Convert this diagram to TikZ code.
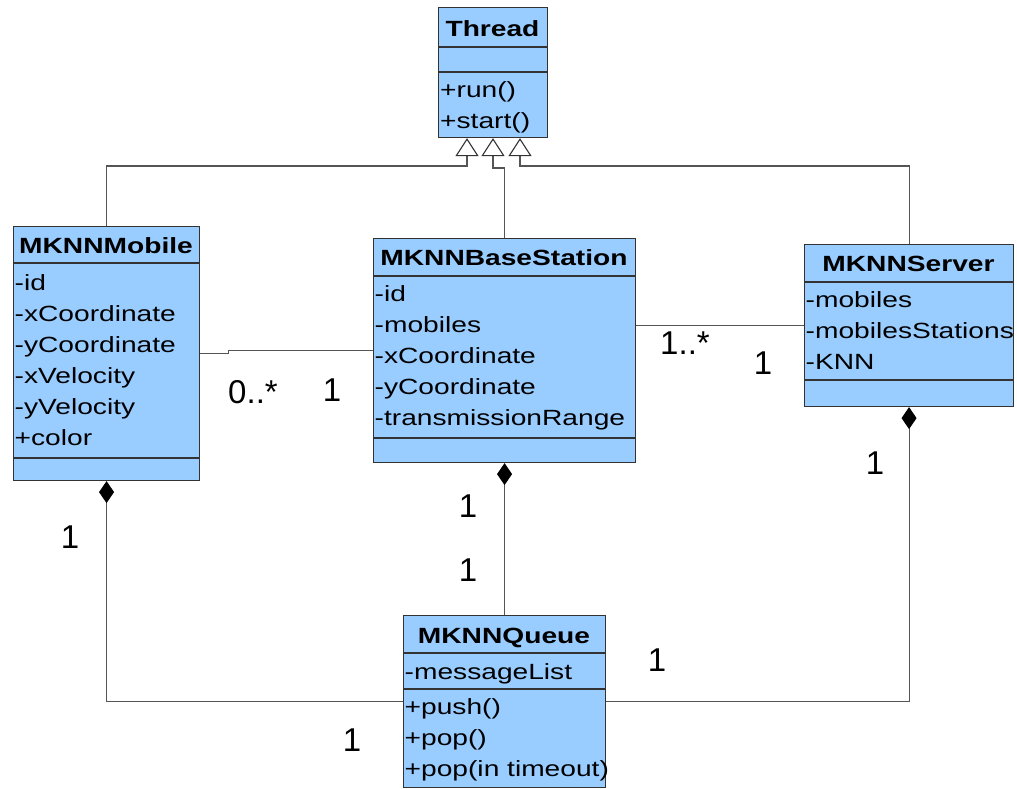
\documentclass[tikz,border=0pt]{standalone}
\usepackage{fontspec}
\setmainfont{Liberation Sans}[FakeStretch=1.28]
\newfontfamily\multfont{Liberation Sans}
\usepackage{tikz}
\usetikzlibrary{
    arrows.meta,
    calc,
    positioning
}
\definecolor{umlblue}{RGB}{153,204,255}
\definecolor{umlline}{RGB}{85,85,85}

\begin{document}
\begin{tikzpicture}[x=1pt, y=-1pt,
    classbox/.style={draw=black!80, fill=umlblue, line width=1.1pt, inner sep=0pt, anchor=north west},
    classsep/.style={draw=black!80, line width=1.1pt},
    title/.style={anchor=base, inner sep=0pt, font=\fontsize{22}{26}\selectfont\bfseries},
    member/.style={anchor=base west, inner sep=0pt, font=\fontsize{22}{26}\selectfont},
    mult/.style={inner sep=0pt, font=\multfont\fontsize{33}{38}\selectfont},
    link/.style={draw=umlline, line width=1.1pt},
    inherit/.style={link, -{Triangle[open, color=black!80, fill=white, width=23pt, length=18pt]}},
    compose/.style={link, {Diamond[color=black, fill=black, width=15pt, length=22pt]}-}]
    \useasboundingbox (0, 0) rectangle (1017, 788);

    \node[classbox, minimum width=109pt, minimum height=130pt] (thread) at (438, 7) {};
    \foreach \y in {47, 72} \draw[classsep] (thread.west |- 0,\y) -- (thread.east |- 0,\y);
    \node[title] (thread-title) at (492.5, 36) {Thread};
    \foreach \txt [count=\i] in {+run(), +start()}
        \node[member] (thread-\i) at (440, 66+31*\i) {\txt};

    \node[classbox, minimum width=186pt, minimum height=254pt] (mobile) at (13, 226) {};
    \foreach \y in {263, 458} \draw[classsep] (mobile.west |- 0,\y) -- (mobile.east |- 0,\y);
    \node[title] (mobile-title) at (106, 253) {MKNNMobile};
    \foreach \txt [count=\i] in {-id, -xCoordinate, -yCoordinate, -xVelocity, -yVelocity, +color}
        \node[member] (mobile-\i) at (14.5, 259+31*\i) {\txt};

    \node[classbox, minimum width=262pt, minimum height=224pt] (base) at (373, 238) {};
    \foreach \y in {276, 438} \draw[classsep] (base.west |- 0,\y) -- (base.east |- 0,\y);
    \node[title] (base-title) at (504, 265) {MKNNBaseStation};
    \foreach \txt [count=\i] in {-id, -mobiles, -xCoordinate, -yCoordinate, -transmissionRange}
        \node[member] (base-\i) at (374.5, 270+31*\i) {\txt};

    \node[classbox, minimum width=209pt, minimum height=162pt] (server) at (804, 244) {};
    \foreach \y in {282, 380} \draw[classsep] (server.west |- 0,\y) -- (server.east |- 0,\y);
    \node[title] (server-title) at (908.5, 271) {MKNNServer};
    \foreach \txt [count=\i] in {-mobiles, -mobilesStations, -KNN}
        \node[member] (server-\i) at (805.5, 276+31*\i) {\txt};

    \node[classbox, minimum width=202pt, minimum height=172pt] (queue) at (403, 615) {};
    \foreach \y in {653, 689} \draw[classsep] (queue.west |- 0,\y) -- (queue.east |- 0,\y);
    \node[title] (queue-title) at (504, 643) {MKNNQueue};
    \node[member] (queue-0) at (404.5, 679) {-messageList};
    \foreach \txt [count=\i] in {+push(), +pop(), +pop(in timeout)}
        \node[member] (queue-\i) at (404.5, 683+31*\i) {\txt};

    \draw[inherit] (mobile.north) -- ++(0, -60) -| ([xshift=29pt]thread.south west);
    \draw[inherit] (base.north) -- ++(0, -70) -| ([xshift=55pt]thread.south west);
    \draw[inherit] (server.north) -- ++(0, -78) -| ([xshift=82pt]thread.south west);

    \draw[link] (mobile.east) -- ++(28, 0) |- (base.west);
    \draw[link] (base.east |- server.west) -- (server.west);
    \draw[compose] (mobile.south) |- (queue.west);
    \draw[compose] (base.south) -- (queue.north);
    \draw[compose] (server.south) |- (queue.east);

    \node[mult] (mobile-base) at (253, 392) {0..*};
    \node[mult] (base-mobile) at (332, 390) {1};
    \node[mult] (base-server) at (685, 343) {1..*};
    \node[mult] (server-base) at (763, 363) {1};
    \node[mult] (mobile-queue) at (70, 537) {1};
    \node[mult] (base-queue) at (468, 506) {1};
    \node[mult] (queue-base) at (468, 570) {1};
    \node[mult] (server-queue) at (875, 463) {1};
    \node[mult] (queue-mobile) at (352, 740) {1};
    \node[mult] (queue-server) at (657, 660) {1};
\end{tikzpicture}
\end{document}
